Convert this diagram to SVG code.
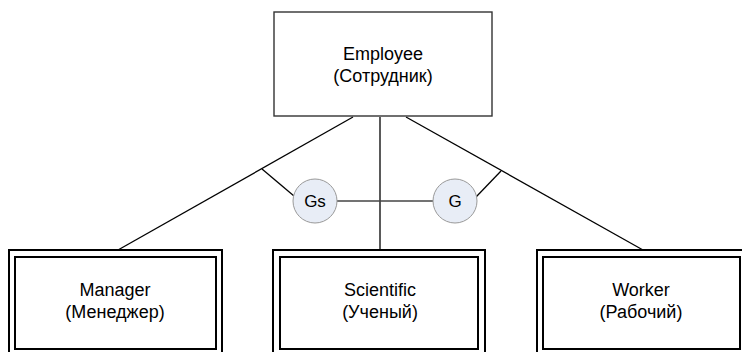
<svg xmlns="http://www.w3.org/2000/svg" width="742" height="352" viewBox="0 0 742 352">
<style>
  .lbl { font-family: "Liberation Sans", Arial, sans-serif; font-size: 18px; fill: #000; text-anchor: middle; }
  .box { fill: #fff; stroke: #333; stroke-width: 1.4; }
  .dbl { fill: #fff; stroke: #000; stroke-width: 2; }
  .conn { stroke: #000; stroke-width: 1.3; fill: none; }
  .circ { fill: #e8edf6; stroke: #999; stroke-width: 1; }
  .clbl { font-family: "Liberation Sans", Arial, sans-serif; font-size: 17px; fill: #000; text-anchor: middle; }
</style>
<rect width="742" height="352" fill="#fff"/>
<g id="connectors">
  <line class="conn" x1="353" y1="117" x2="118" y2="250"/>
  <line class="conn" x1="380" y1="117" x2="380" y2="250"/>
  <line class="conn" x1="406" y1="117" x2="643" y2="250"/>
  <line class="conn" x1="262" y1="169" x2="294" y2="196"/>
  <line class="conn" x1="501" y1="171" x2="476" y2="197"/>
  <line x1="337" y1="201" x2="433" y2="201" stroke="#444" stroke-width="1.6"/>
</g>
<g id="employee">
  <rect class="box" x="274" y="12" width="218" height="104"/>
  <text class="lbl" x="383" y="60">Employee</text>
  <text class="lbl" x="383" y="82">(Сотрудник)</text>
</g>
<g id="gs">
  <circle class="circ" cx="315" cy="201" r="22"/>
  <text class="clbl" x="315" y="207">Gs</text>
</g>
<g id="g">
  <circle class="circ" cx="455" cy="201" r="22"/>
  <text class="clbl" x="455" y="207">G</text>
</g>
<g id="manager">
  <rect class="dbl" x="9" y="250" width="213" height="110"/>
  <rect class="dbl" x="15" y="257" width="201" height="92"/>
  <text class="lbl" x="115" y="296">Manager</text>
  <text class="lbl" x="115" y="318">(Менеджер)</text>
</g>
<g id="scientific">
  <rect class="dbl" x="273" y="250" width="212" height="110"/>
  <rect class="dbl" x="280" y="257" width="198" height="92"/>
  <text class="lbl" x="380" y="296">Scientific</text>
  <text class="lbl" x="380" y="318">(Ученый)</text>
</g>
<g id="worker">
  <rect class="dbl" x="537" y="250" width="210" height="110"/>
  <rect class="dbl" x="543" y="257" width="197" height="92"/>
  <text class="lbl" x="641" y="296">Worker</text>
  <text class="lbl" x="641" y="318">(Рабочий)</text>
</g>
</svg>
